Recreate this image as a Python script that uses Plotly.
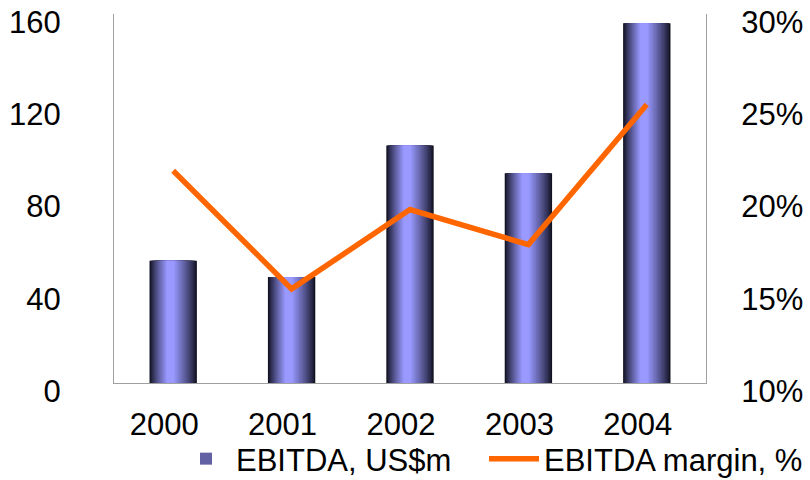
import plotly.graph_objects as go

years = ["2000", "2001", "2002", "2003", "2004"]
ebitda = [53, 46, 103, 91, 156]
margin = [0.215, 0.151, 0.194, 0.175, 0.251]

y_ticks = [0, 40, 80, 120, 160]
y2_ticks = [0.10, 0.15, 0.20, 0.25, 0.30]

FONT = "Liberation Sans, Arial, sans-serif"
FS = 31
BAR_W = 0.4
PEAK_L, PEAK_R = 0.36, 0.52  # light band position across bar width (fractions)
DARK = (18, 18, 34)
LIGHT = (153, 153, 255)
N = 18

fig = go.Figure()

for i in range(N):
    t = i / (N - 1)
    left = t * PEAK_L * BAR_W
    right = BAR_W - t * (1 - PEAK_R) * BAR_W
    s = t ** 0.85
    col = tuple(round(DARK[k] + (LIGHT[k] - DARK[k]) * s) for k in range(3))
    fig.add_trace(go.Bar(
        x=years, y=ebitda,
        width=[right - left] * len(years),
        offset=[-BAR_W / 2 + left] * len(years),
        marker=dict(color="rgb(%d,%d,%d)" % col, line=dict(width=0)),
        name="EBITDA, US$m",
        showlegend=(i == N // 2),
        legend="legend",
        hoverinfo="skip" if i != N - 1 else None,
    ))

fig.add_trace(go.Scatter(
    x=years, y=margin, yaxis="y2", mode="lines",
    line=dict(color="#FF6600", width=5.5),
    name="EBITDA margin, %", legend="legend2",
))

axis_common = dict(showgrid=False, zeroline=False, showline=True,
                   linecolor="#a0a0a0", linewidth=1, ticks="",
                   automargin=False, tickfont=dict(size=FS),
                   ticklabeloverflow="allow")

PLOT_L, PLOT_R, PLOT_T, PLOT_B = 114, 706, 14, 383
W, H = 810, 480

legend_common = dict(
    orientation="h", xref="container", yref="container",
    xanchor="left", yanchor="middle", y=(H - 459) / H,
    font=dict(size=FS), itemwidth=50, bgcolor="rgba(0,0,0,0)",
)

fig.update_layout(
    width=W, height=H,
    barmode="overlay",
    paper_bgcolor="white", plot_bgcolor="white",
    margin=dict(l=PLOT_L, r=W - PLOT_R, t=PLOT_T, b=H - PLOT_B),
    font=dict(family=FONT, size=FS, color="black"),
    xaxis=dict(type="category", ticklabelstandoff=14, ticklabelshift=-9,
               **axis_common),
    yaxis=dict(range=[0, 160], tickvals=y_ticks, ticklabelstandoff=46,
               ticklabelshift=8, **axis_common),
    yaxis2=dict(overlaying="y", side="right", range=[0.10, 0.30],
                tickvals=y2_ticks, tickformat=".0%", ticklabelstandoff=28,
                ticklabelshift=8, **axis_common),
    legend=dict(x=176 / W, **legend_common),
    legend2=dict(x=484 / W, **legend_common),
)

fig.write_html("out.html", config={"displayModeBar": False},
               post_script="document.body.style.margin='0';")
